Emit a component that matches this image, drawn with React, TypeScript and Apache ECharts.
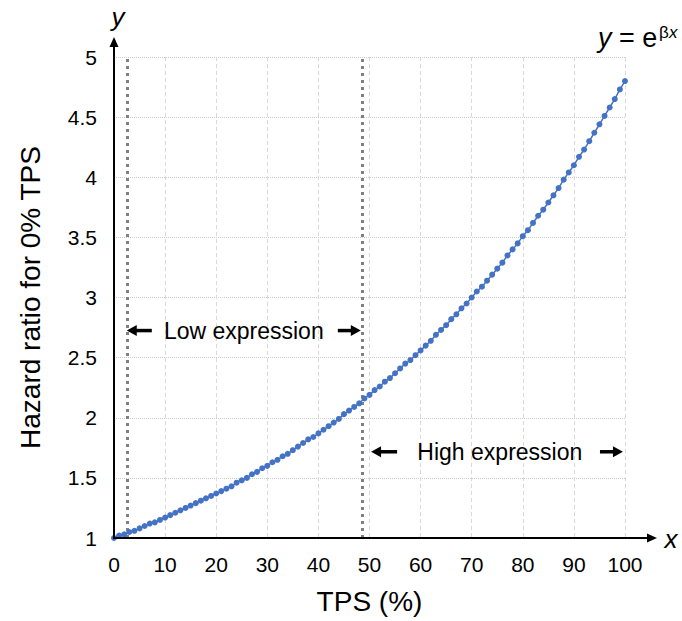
import React, { useEffect, useRef } from "react";
import * as echarts from "echarts";

const tpsPercent = [
  0, 1, 2, 3, 4, 5, 6, 7, 8, 9, 10, 11, 12, 13, 14, 15, 16, 17, 18, 19, 20,
  21, 22, 23, 24, 25, 26, 27, 28, 29, 30, 31, 32, 33, 34, 35, 36, 37, 38, 39, 40,
  41, 42, 43, 44, 45, 46, 47, 48, 49, 50, 51, 52, 53, 54, 55, 56, 57, 58, 59, 60,
  61, 62, 63, 64, 65, 66, 67, 68, 69, 70, 71, 72, 73, 74, 75, 76, 77, 78, 79, 80,
  81, 82, 83, 84, 85, 86, 87, 88, 89, 90, 91, 92, 93, 94, 95, 96, 97, 98, 99, 100,
];

const hazardRatio = [
  1.0, 1.02, 1.03, 1.05, 1.06, 1.08, 1.1, 1.12, 1.13, 1.15, 1.17,
  1.19, 1.21, 1.23, 1.25, 1.27, 1.29, 1.31, 1.33, 1.35, 1.37,
  1.39, 1.41, 1.43, 1.46, 1.48, 1.5, 1.53, 1.55, 1.58, 1.6,
  1.63, 1.65, 1.68, 1.7, 1.73, 1.76, 1.79, 1.82, 1.84, 1.87,
  1.9, 1.93, 1.96, 1.99, 2.03, 2.06, 2.09, 2.12, 2.16, 2.19,
  2.23, 2.26, 2.3, 2.33, 2.37, 2.41, 2.45, 2.48, 2.52, 2.56,
  2.6, 2.64, 2.69, 2.73, 2.77, 2.82, 2.86, 2.91, 2.95, 3.0,
  3.05, 3.09, 3.14, 3.19, 3.24, 3.29, 3.35, 3.4, 3.45, 3.51,
  3.56, 3.62, 3.68, 3.73, 3.79, 3.85, 3.91, 3.98, 4.04, 4.1,
  4.17, 4.23, 4.3, 4.37, 4.44, 4.51, 4.58, 4.65, 4.73, 4.8,
];

const cutoffs = [2.5, 48.5];

// annotation anchors in data units
const lowExpr = { label: "Low expression", left: [2.5, 7.4], text: 25.4, right: [43.8, 48.3], y: 2.725 };
const highExpr = { label: "High expression", left: [50.3, 55.4], text: 75.5, right: [95.1, 99.6], y: 1.717 };

const FONT = "'Liberation Sans', Arial, Helvetica, sans-serif";
const BLUE = "#4472C4";

export default function App() {
  const ref = useRef<HTMLDivElement>(null);

  useEffect(() => {
    if (!ref.current) return;
    const chart = echarts.init(ref.current, undefined, { renderer: "svg" });
    const data = tpsPercent.map((x, i) => [x, hazardRatio[i]]);

    chart.setOption({
      animation: false,
      backgroundColor: "#ffffff",
      grid: { left: 114, right: 57, top: 57, bottom: 83, containLabel: false },
      xAxis: {
        type: "value",
        min: 0,
        max: 100,
        interval: 10,
        name: "TPS (%)",
        nameLocation: "middle",
        nameGap: 49,
        nameTextStyle: { fontSize: 28, fontFamily: FONT, color: "#000" },
        axisLine: { show: false },
        axisTick: { show: false },
        axisLabel: { fontSize: 21, fontFamily: FONT, color: "#000", margin: 16 },
        splitLine: { show: true, lineStyle: { color: "#d9d9d9", type: [4, 3], width: 1 } },
      },
      yAxis: {
        type: "value",
        min: 1,
        max: 5,
        interval: 0.5,
        name: "Hazard ratio for 0% TPS",
        nameLocation: "middle",
        nameGap: 70,
        nameTextStyle: { fontSize: 28, fontFamily: FONT, color: "#000" },
        axisLine: { show: false },
        axisTick: { show: false },
        axisLabel: { fontSize: 21, fontFamily: FONT, color: "#000", margin: 17 },
        splitLine: { show: true, lineStyle: { color: "#cccccc", type: [1, 1], width: 1 } },
      },
      series: [
        {
          type: "line",
          data,
          symbol: "circle",
          symbolSize: 6,
          showSymbol: true,
          lineStyle: { color: BLUE, width: 1.5 },
          itemStyle: { color: BLUE },
          z: 5,
          markLine: {
            silent: true,
            symbol: ["none", "none"],
            label: { show: false },
            lineStyle: { color: "#808080", type: [3, 4], width: 3 },
            data: cutoffs.map((c) => ({ xAxis: c })),
            z: 3,
          },
        },
      ],
    });

    const px = (x: number, y: number) => chart.convertToPixel({ gridIndex: 0 }, [x, y]) as number[];
    const [ox, oy] = px(0, 1);
    const xRight = px(100, 1)[0];
    const yTop = px(0, 5)[1];
    const xTip = xRight + 32;
    const yTip = yTop - 20;

    const g: any[] = [];
    // axes with arrowheads
    g.push({ type: "line", shape: { x1: ox, y1: oy, x2: xTip - 8, y2: oy }, style: { stroke: "#000", lineWidth: 2 }, z: 10 });
    g.push({ type: "polygon", shape: { points: [[xTip, oy], [xTip - 10, oy - 4.5], [xTip - 10, oy + 4.5]] }, style: { fill: "#000" }, z: 10 });
    g.push({ type: "line", shape: { x1: ox, y1: oy + 1, x2: ox, y2: yTip + 8 }, style: { stroke: "#000", lineWidth: 2 }, z: 10 });
    g.push({ type: "polygon", shape: { points: [[ox, yTip], [ox - 4.5, yTip + 10], [ox + 4.5, yTip + 10]] }, style: { fill: "#000" }, z: 10 });

    // axis letters
    g.push({ type: "text", x: ox + 4, y: 17, style: { text: "y", fontSize: 26, fontStyle: "italic", fontFamily: FONT, fill: "#000", align: "center", verticalAlign: "middle" }, z: 10 });
    g.push({ type: "text", x: xTip + 14, y: oy + 1, style: { text: "x", fontSize: 26, fontStyle: "italic", fontFamily: FONT, fill: "#000", align: "center", verticalAlign: "middle" }, z: 10 });

    // formula y = e^{βx}
    g.push({ type: "text", x: 598, y: 38, style: { text: "y", fontSize: 27, fontStyle: "italic", fontFamily: FONT, fill: "#000", align: "left", verticalAlign: "middle" }, z: 10 });
    g.push({ type: "text", x: 619, y: 38, style: { text: "= e", fontSize: 27, fontFamily: FONT, fill: "#000", align: "left", verticalAlign: "middle" }, z: 10 });
    g.push({ type: "text", x: 659, y: 32, style: { text: "β", fontSize: 17, fontFamily: FONT, fill: "#000", align: "left", verticalAlign: "middle" }, z: 10 });
    g.push({ type: "text", x: 669, y: 32, style: { text: "x", fontSize: 17, fontStyle: "italic", fontFamily: FONT, fill: "#000", align: "left", verticalAlign: "middle" }, z: 10 });

    const arrow = (fromX: number, toX: number, y: number) => {
      const [x1, yy] = px(fromX, y);
      const [x2] = px(toX, y);
      const dir = Math.sign(x2 - x1);
      const head = 10;
      g.push({ type: "line", shape: { x1, y1: yy, x2: x2 - dir * (head - 1), y2: yy }, style: { stroke: "#000", lineWidth: 3.5 }, z: 10 });
      g.push({ type: "polygon", shape: { points: [[x2, yy], [x2 - dir * head, yy - 5.5], [x2 - dir * head, yy + 5.5]] }, style: { fill: "#000" }, z: 10 });
    };

    [lowExpr, highExpr].forEach((a) => {
      arrow(a.left[1], a.left[0], a.y);
      arrow(a.right[0], a.right[1], a.y);
      const [tx, ty] = px(a.text, a.y);
      g.push({ type: "text", x: tx, y: ty, style: { text: a.label, fontSize: 23, fontFamily: FONT, fill: "#000", align: "center", verticalAlign: "middle" }, z: 10 });
    });

    chart.setOption({ graphic: { elements: g } });

    return () => chart.dispose();
  }, []);

  return <div ref={ref} style={{ position: "fixed", left: 0, top: 0, width: 682, height: 621 }} />;
}
